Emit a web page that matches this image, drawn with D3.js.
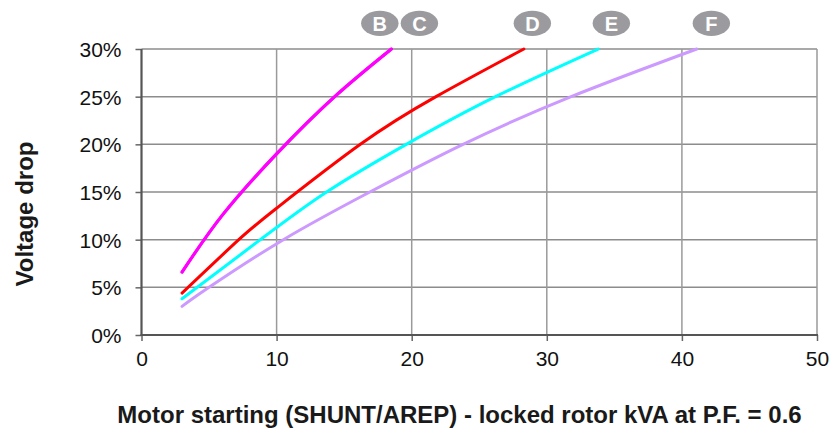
<!DOCTYPE html>
<html>
<head>
<meta charset="utf-8">
<script src="https://cdn.jsdelivr.net/npm/d3@7"></script>
<style>
  html, body { margin: 0; padding: 0; background: #ffffff; }
  svg { display: block; }
  text { font-family: "Liberation Sans", Arial, Helvetica, sans-serif; }
</style>
</head>
<body>
<svg id="chart" width="829" height="434"></svg>
<script>
// Locked rotor kVA (x) versus voltage drop in % (y), one curve per machine frame
const curveNames = ["C", "B", "D", "E", "F"];
const curveColors = ["#ff00ff", "#ff00ff", "#ff0000", "#00ffff", "#cc99ff"];

const kvaC = [3, 6, 10, 14.3, 18.5];
const dropC = [6.6, 12.6, 19, 25, 30];
const kvaB = [3, 6, 10, 14.3, 18.5];
const dropB = [6.6, 12.6, 19, 25, 30];
const kvaD = [3, 7.2, 10, 16.2, 21.8, 28.3];
const dropD = [4.4, 10, 13.3, 20, 25, 30];
const kvaE = [3, 8.8, 13.7, 19.6, 26.2, 33.8];
const dropE = [3.8, 10, 15, 20, 25, 30];
const kvaF = [3, 5, 10.5, 16.9, 23.8, 31.8, 41.1];
const dropF = [3, 5, 10, 15, 20, 25, 30];

// Badge letters above the plot, placed at a kVA value
const badgeNames = ["B", "C", "D", "E", "F"];
const badgeKva = [17.64, 20.57, 28.93, 34.78, 42.18];

const xTicks = [0, 10, 20, 30, 40, 50];
const yTicks = [0, 5, 10, 15, 20, 25, 30];

const xTitle = "Motor starting (SHUNT/AREP) - locked rotor kVA at P.F. = 0.6";
const yTitle = "Voltage drop";

const kvaSets = [kvaC, kvaB, kvaD, kvaE, kvaF];
const dropSets = [dropC, dropB, dropD, dropE, dropF];

const svg = d3.select("#chart");
const plotLeft = 141.5, plotRight = 817, plotTop = 49, plotBottom = 335;

const x = d3.scaleLinear().domain([0, 50]).range([plotLeft, plotRight]);
const y = d3.scaleLinear().domain([0, 30]).range([plotBottom, plotTop]);

// grid
const grid = svg.append("g");
grid.selectAll("line.h").data(yTicks.filter(d => d > 0)).enter().append("line")
  .attr("x1", plotLeft).attr("x2", plotRight)
  .attr("y1", d => y(d)).attr("y2", d => y(d))
  .attr("stroke", "#8c8c8c").attr("stroke-width", 1.5);
grid.selectAll("line.v").data(xTicks.filter(d => d > 0)).enter().append("line")
  .attr("x1", d => x(d)).attr("x2", d => x(d))
  .attr("y1", plotTop).attr("y2", plotBottom)
  .attr("stroke", "#9a9a9a").attr("stroke-width", 1.5);

// axes
const xAxis = svg.append("g").attr("transform", `translate(0,${plotBottom})`)
  .call(d3.axisBottom(x).tickValues(xTicks).tickSize(6).tickPadding(10).tickFormat(d3.format("d")));
const yAxis = svg.append("g").attr("transform", `translate(${plotLeft},0)`)
  .call(d3.axisLeft(y).tickValues(yTicks).tickSize(6).tickPadding(14).tickFormat(d => d + "%"));
[xAxis, yAxis].forEach(a => {
  a.select(".domain").remove();
  a.selectAll(".tick line").attr("stroke", "#666").attr("stroke-width", 1.5);
  a.selectAll(".tick text").attr("fill", "#111").style("font-size", "21px")
    .style("font-family", "'Liberation Sans', Arial, sans-serif");
});
yAxis.selectAll(".tick text").attr("dy", "0.36em");

svg.append("line").attr("x1", plotLeft).attr("x2", plotLeft).attr("y1", plotTop).attr("y2", plotBottom + 1)
  .attr("stroke", "#555").attr("stroke-width", 2.2);
svg.append("line").attr("x1", plotLeft - 1).attr("x2", plotRight + 1).attr("y1", plotBottom).attr("y2", plotBottom)
  .attr("stroke", "#555").attr("stroke-width", 2.2);

// curves
const line = d3.line().x(d => x(d[0])).y(d => y(d[1])).curve(d3.curveNatural);
curveNames.forEach((name, i) => {
  const pts = kvaSets[i].map((k, j) => [k, dropSets[i][j]]);
  svg.append("path").datum(pts)
    .attr("d", line)
    .attr("fill", "none")
    .attr("stroke", curveColors[i])
    .attr("stroke-width", 3)
    .attr("stroke-linecap", "round");
});

// badges
const badges = svg.selectAll("g.badge").data(badgeNames).enter().append("g")
  .attr("transform", (d, i) => `translate(${x(badgeKva[i])},23.3)`);
badges.append("ellipse").attr("rx", 18.7).attr("ry", 12.6).attr("fill", "#9b9b9f");
badges.append("text").text(d => d)
  .attr("text-anchor", "middle").attr("dy", "0.36em")
  .attr("fill", "#ffffff").style("font-size", "20px").style("font-weight", "bold");

// axis titles
svg.append("text").text(xTitle)
  .attr("x", 459.5).attr("y", 423)
  .attr("text-anchor", "middle")
  .attr("fill", "#1a1a1a").style("font-size", "24px").style("font-weight", "bold");
svg.append("text").text(yTitle)
  .attr("transform", "translate(24,214) rotate(-90)")
  .attr("text-anchor", "middle").attr("dy", "0.36em")
  .attr("fill", "#1a1a1a").style("font-size", "24px").style("font-weight", "bold");
</script>
</body>
</html>
